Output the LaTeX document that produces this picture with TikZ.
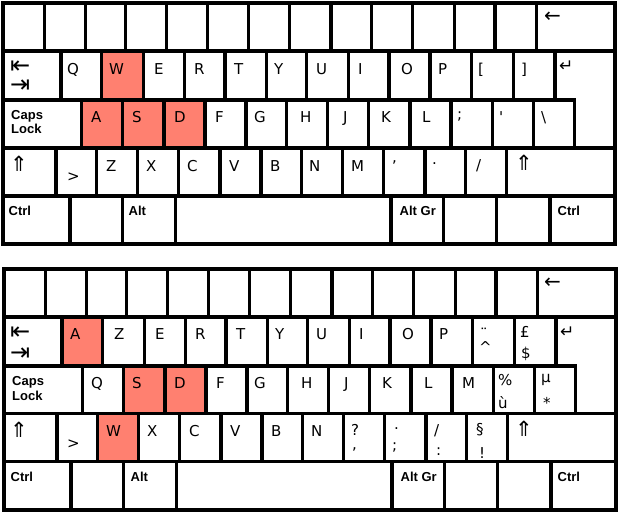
\documentclass[tikz,border=0pt]{standalone}
\usepackage{fontspec}
\setmainfont{DejaVu Sans}
\newfontfamily\labfont{Liberation Sans}
\definecolor{keyhot}{RGB}{255,128,112}
\tikzset{
  keyline/.style={line width=3.8pt, draw=black, fill=white, line join=miter},
  hotkey/.style={keyline, fill=keyhot},
  lab/.style={anchor=base west, inner sep=0pt, font=\fontsize{15}{15}\selectfont},
  flatlab/.style={lab, text height=10pt, text depth=0pt},
  modlab/.style={anchor=base west, inner sep=0pt, font=\labfont\bfseries\fontsize{13}{13}\selectfont},
  tabsym/.style={anchor=base west, inner sep=0pt, font=\fontsize{24}{24}\selectfont, text height=14pt, text depth=0pt},
  bksym/.style={anchor=base west, inner sep=0pt, font=\fontsize{20}{20}\selectfont},
  entsym/.style={anchor=base west, inner sep=0pt, font=\fontsize{17}{17}\selectfont},
  shsym/.style={anchor=base west, inner sep=0pt, font=\fontsize{21}{21}\selectfont},
}
\newcommand\drawkeyboard{%
  % row 1
  \foreach \a/\b in {3.3/44.5,44.5/85.5,85.5/125.5,125.5/166.5,166.5/207.5,207.5/248.5,248.5/289.5,289.5/331,331/371.5,371.5/412.5,412.5/454.5,454.5/495,495/536.5,536.5/615}
    \draw[keyline] (\a,3.3) rectangle (\b,51.3);
  % row 2
  \foreach \a/\b in {3.3/61,61/101.5,101.5/143.5,143.5/184.5,184.5/225,225/266.5,266.5/306.5,306.5/348.5,348.5/389,389/430,430/471.5,471.5/513.5,513.5/555}
    \draw[keyline] (\a,51.3) rectangle (\b,100);
  % row 3
  \foreach \a/\b in {3.3/81.5,81.5/122.5,122.5/164,164/205,205/246,246/286.5,286.5/327.5,327.5/368.5,368.5/410,410/451,451/492.5,492.5/533.5,533.5/574.5}
    \draw[keyline] (\a,100) rectangle (\b,147.7);
  % enter
  \draw[keyline] (555,51.3) -- (615,51.3) -- (615,147.7) -- (574.5,147.7) -- (574.5,100) -- (555,100) -- cycle;
  % row 4
  \foreach \a/\b in {3.3/56,56/96.5,96.5/137.5,137.5/178.5,178.5/220,220/261,261/301.5,301.5/342.5,342.5/383.5,383.5/425,425/465.5,465.5/506.5,506.5/615}
    \draw[keyline] (\a,147.7) rectangle (\b,195.7);
  % row 5
  \foreach \a/\b in {3.3/70,70/122.5,122.5/175.5,175.5/391,391/443.5,443.5/496.5,496.5/550,550/615}
    \draw[keyline] (\a,195.7) rectangle (\b,244);
}
\begin{document}
\begin{tikzpicture}[x=1pt,y=-1pt]
\useasboundingbox[fill=white] (0,0) rectangle (618,515);
% ---------- top keyboard (QWERTY) ----------
\begin{scope}
  \drawkeyboard
  \draw[hotkey] (101.5,51.3) rectangle (143.5,100);
  \draw[hotkey] (81.5,100) rectangle (122.5,147.7);
  \draw[hotkey] (122.5,100) rectangle (164,147.7);
  \draw[hotkey] (164,100) rectangle (205,147.7);
\end{scope}
% ---------- bottom keyboard (AZERTY) ----------
\begin{scope}[shift={(1,265.7)}]
  \drawkeyboard
  \draw[hotkey] (61,51.3) rectangle (101.5,100);
  \draw[hotkey] (122.5,100) rectangle (164,147.7);
  \draw[hotkey] (164,100) rectangle (205,147.7);
  \draw[hotkey] (96.5,147.7) rectangle (137.5,195.7);
\end{scope}
% ---------- top labels ----------
\node[bksym] (t-bk) at (544,22) {←};
\node[tabsym] (t-tab1) at (10,73) {⇤};
\node[tabsym] (t-tab2) at (10,92) {⇥};
\node[lab] (t-q) at (67,74.5) {Q};
\node[lab] (t-w) at (109,74.5) {W};
\node[lab] (t-e) at (154,74.5) {E};
\node[lab] (t-r) at (194,74.5) {R};
\node[lab] (t-t) at (234,74.5) {T};
\node[lab] (t-y) at (274,74.5) {Y};
\node[lab] (t-u) at (316,74.5) {U};
\node[lab] (t-i) at (358,74.5) {I};
\node[lab] (t-o) at (401,74.5) {O};
\node[lab] (t-p) at (438,74.5) {P};
\node[lab] (t-lb) at (478,74.5) {[};
\node[lab] (t-rb) at (521,74.5) {]};
\node[entsym] (t-ent) at (559,71) {↵};
\node[modlab] (t-caps) at (11,119) {Caps};
\node[modlab] (t-lock) at (11,133) {Lock};
\node[lab] (t-a) at (91,122) {A};
\node[lab] (t-s) at (132,122) {S};
\node[lab] (t-d) at (174,122) {D};
\node[lab] (t-f) at (215,122) {F};
\node[lab] (t-g) at (254,122) {G};
\node[lab] (t-h) at (300,122) {H};
\node[lab] (t-j) at (343,122) {J};
\node[lab] (t-k) at (381,122) {K};
\node[lab] (t-l) at (422,122) {L};
\node[lab] (t-sc) at (457,119) {;};
\node[lab] (t-ap) at (499,122) {\textquotesingle};
\node[lab] (t-bs) at (541,122) {\textbackslash};
\node[shsym] (t-lsh) at (10,171) {⇑};
\node[lab] (t-gt) at (67,181) {>};
\node[lab] (t-z) at (106,171) {Z};
\node[lab] (t-x) at (146,171) {X};
\node[lab] (t-c) at (187,171) {C};
\node[lab] (t-v) at (229,171) {V};
\node[lab] (t-b) at (270,171) {B};
\node[lab] (t-n) at (309,171) {N};
\node[lab] (t-m) at (351,171) {M};
\node[lab] (t-cm) at (392,162) {,};
\node[lab] (t-pd) at (432,164) {.};
\node[lab] (t-sl) at (476,170) {/};
\node[shsym] (t-rsh) at (515,170) {⇑};
\node[modlab] (t-ctl) at (8.5,215) {Ctrl};
\node[modlab] (t-alt) at (128.5,215) {Alt};
\node[modlab] (t-agr) at (399.5,215) {Alt Gr};
\node[modlab] (t-ctr) at (557.5,215) {Ctrl};
% ---------- bottom labels ----------
\node[bksym] (b-bk) at (544,288) {←};
\node[tabsym] (b-tab1) at (10,339) {⇤};
\node[tabsym] (b-tab2) at (10,360) {⇥};
\node[lab] (b-a) at (70,339.5) {A};
\node[lab] (b-z) at (114,339.5) {Z};
\node[lab] (b-e) at (155,339.5) {E};
\node[lab] (b-r) at (195,339.5) {R};
\node[lab] (b-t) at (236,339.5) {T};
\node[lab] (b-y) at (275,339.5) {Y};
\node[lab] (b-u) at (316,339.5) {U};
\node[lab] (b-i) at (359,339.5) {I};
\node[lab] (b-o) at (402,339.5) {O};
\node[lab] (b-p) at (439,339.5) {P};
\node[flatlab] (b-di) at (480,339) {¨};
\node[flatlab] (b-ci) at (479,352) {\textasciicircum};
\node[lab] (b-pd) at (520,337.5) {£};
\node[lab] (b-do) at (521,358.5) {\$};
\node[entsym] (b-ent) at (560,337) {↵};
\node[modlab] (b-caps) at (12,385) {Caps};
\node[modlab] (b-lock) at (12,400) {Lock};
\node[lab] (b-q) at (91,388) {Q};
\node[lab] (b-s) at (132,388) {S};
\node[lab] (b-d) at (174,388) {D};
\node[lab] (b-f) at (216,388) {F};
\node[lab] (b-g) at (254,388) {G};
\node[lab] (b-h) at (301,388) {H};
\node[lab] (b-j) at (344,388) {J};
\node[lab] (b-k) at (382,388) {K};
\node[lab] (b-l) at (424,388) {L};
\node[lab] (b-m) at (462,388) {M};
\node[lab] (b-pc) at (498,385) {\%};
\node[lab] (b-ug) at (498,408.5) {ù};
\node[lab] (b-mu) at (541,382) {µ};
\node[lab] (b-as) at (543,408) {*};
\node[shsym] (b-lsh) at (10,437) {⇑};
\node[lab] (b-gt) at (67,448) {>};
\node[lab] (b-w) at (106,436.5) {W};
\node[lab] (b-x) at (147,436.5) {X};
\node[lab] (b-c) at (189,436.5) {C};
\node[lab] (b-v) at (230,436.5) {V};
\node[lab] (b-b) at (271,436.5) {B};
\node[lab] (b-n) at (311,436.5) {N};
\node[lab] (b-qm) at (351,435.5) {?};
\node[lab] (b-cm) at (352,449) {,};
\node[lab] (b-dt) at (394,429) {.};
\node[lab] (b-sc) at (392,450) {;};
\node[lab] (b-sl) at (434,435) {/};
\node[lab] (b-co) at (436,455.5) {:};
\node[lab] (b-sec) at (476,434) {§};
\node[lab] (b-ex) at (479,458) {!};
\node[shsym] (b-rsh) at (515,436) {⇑};
\node[modlab] (b-ctl) at (10.5,481) {Ctrl};
\node[modlab] (b-alt) at (130.5,481) {Alt};
\node[modlab] (b-agr) at (400.5,481) {Alt Gr};
\node[modlab] (b-ctr) at (557.5,481) {Ctrl};
\end{tikzpicture}
\end{document}
